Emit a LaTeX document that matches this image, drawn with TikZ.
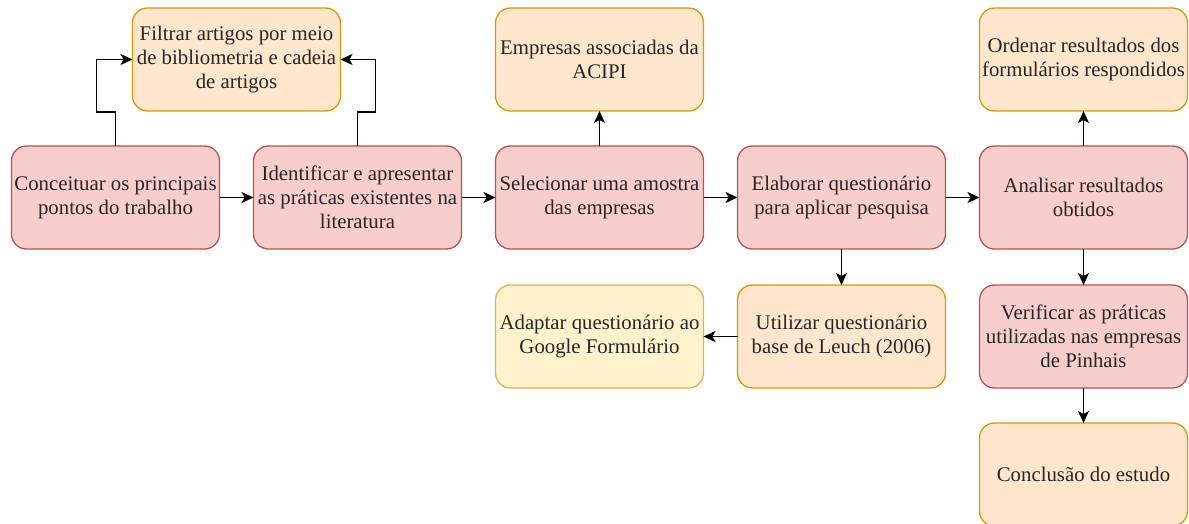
\documentclass[tikz,border=0pt]{standalone}
\usepackage{fontspec}
\setmainfont{Liberation Serif}
\newfontfamily\boxfont{Liberation Serif}
\usepackage{tikz}
\usetikzlibrary{arrows.meta}
\usetikzlibrary{positioning}

\definecolor{redfill}{HTML}{F8CECC}
\definecolor{redline}{HTML}{B85450}
\definecolor{orangefill}{HTML}{FFE6CC}
\definecolor{orangeline}{HTML}{D79B00}
\definecolor{yellowfill}{HTML}{FFF2CC}
\definecolor{yellowline}{HTML}{D6B656}

\tikzset{
	box/.style={rectangle, rounded corners=15pt, line width=1.3pt,
		minimum width=208pt, minimum height=103pt, align=center,
		inner sep=0pt, outer sep=0pt, text=black!85,
		font=\boxfont\fontsize{20.8}{24}\selectfont},
	redbox/.style={box, fill=redfill, draw=redline},
	orangebox/.style={box, fill=orangefill, draw=orangeline},
	yellowbox/.style={box, fill=yellowfill, draw=yellowline},
	arr/.style={line width=1.3pt, -{Stealth[length=12pt,width=11pt,inset=3pt]}}
}

\begin{document}
\begin{tikzpicture}
	\useasboundingbox (0,0) rectangle (1189pt,-524pt);

	% main row
	\node[redbox] (conceituar) at (115.5pt,-197.5pt) {Conceituar os principais\\pontos do trabalho};
	\node[redbox, right=34pt of conceituar] (identificar) {Identificar e apresentar\\as pr\'aticas existentes na\\literatura};
	\node[redbox, right=34pt of identificar] (selecionar) {Selecionar uma amostra\\das empresas};
	\node[redbox, right=34pt of selecionar] (elaborar) {Elaborar question\'ario\\para aplicar pesquisa};
	\node[redbox, right=34pt of elaborar] (analisar) {Analisar resultados\\obtidos};

	% upper row
	\path (conceituar.north) -- (identificar.north) coordinate[midway] (meio);
	\node[orangebox, above=35pt of meio, anchor=south] (filtrar) {Filtrar artigos por meio\\de bibliometria e cadeia\\de artigos};
	\node[orangebox, above=35pt of selecionar] (empresas) {Empresas associadas da\\ACIPI};
	\node[orangebox, above=35pt of analisar] (ordenar) {Ordenar resultados dos\\formul\'arios respondidos};

	% lower rows
	\node[orangebox, below=36pt of elaborar] (utilizar) {Utilizar question\'ario\\base de Leuch (2006)};
	\node[yellowbox, left=34pt of utilizar] (adaptar) {Adaptar question\'ario ao\\Google Formul\'ario};
	\node[redbox, below=36pt of analisar] (verificar) {Verificar as pr\'aticas\\utilizadas nas empresas\\de Pinhais};
	\node[orangebox, below=35pt of verificar] (conclusao) {Conclus\~ao do estudo};

	\draw[arr] (conceituar) -- (identificar);
	\draw[arr] (identificar) -- (selecionar);
	\draw[arr] (selecionar) -- (elaborar);
	\draw[arr] (elaborar) -- (analisar);
	\draw[arr] (conceituar.north) -- ++(0,34pt) -- ++(-19pt,0) |- (filtrar.west);
	\draw[arr] (identificar.north) -- ++(0,34pt) -- ++(18pt,0) |- (filtrar.east);
	\draw[arr] (selecionar) -- (empresas);
	\draw[arr] (analisar) -- (ordenar);
	\draw[arr] (elaborar) -- (utilizar);
	\draw[arr] (utilizar) -- (adaptar);
	\draw[arr] (analisar) -- (verificar);
	\draw[arr] (verificar) -- (conclusao);
\end{tikzpicture}
\end{document}
